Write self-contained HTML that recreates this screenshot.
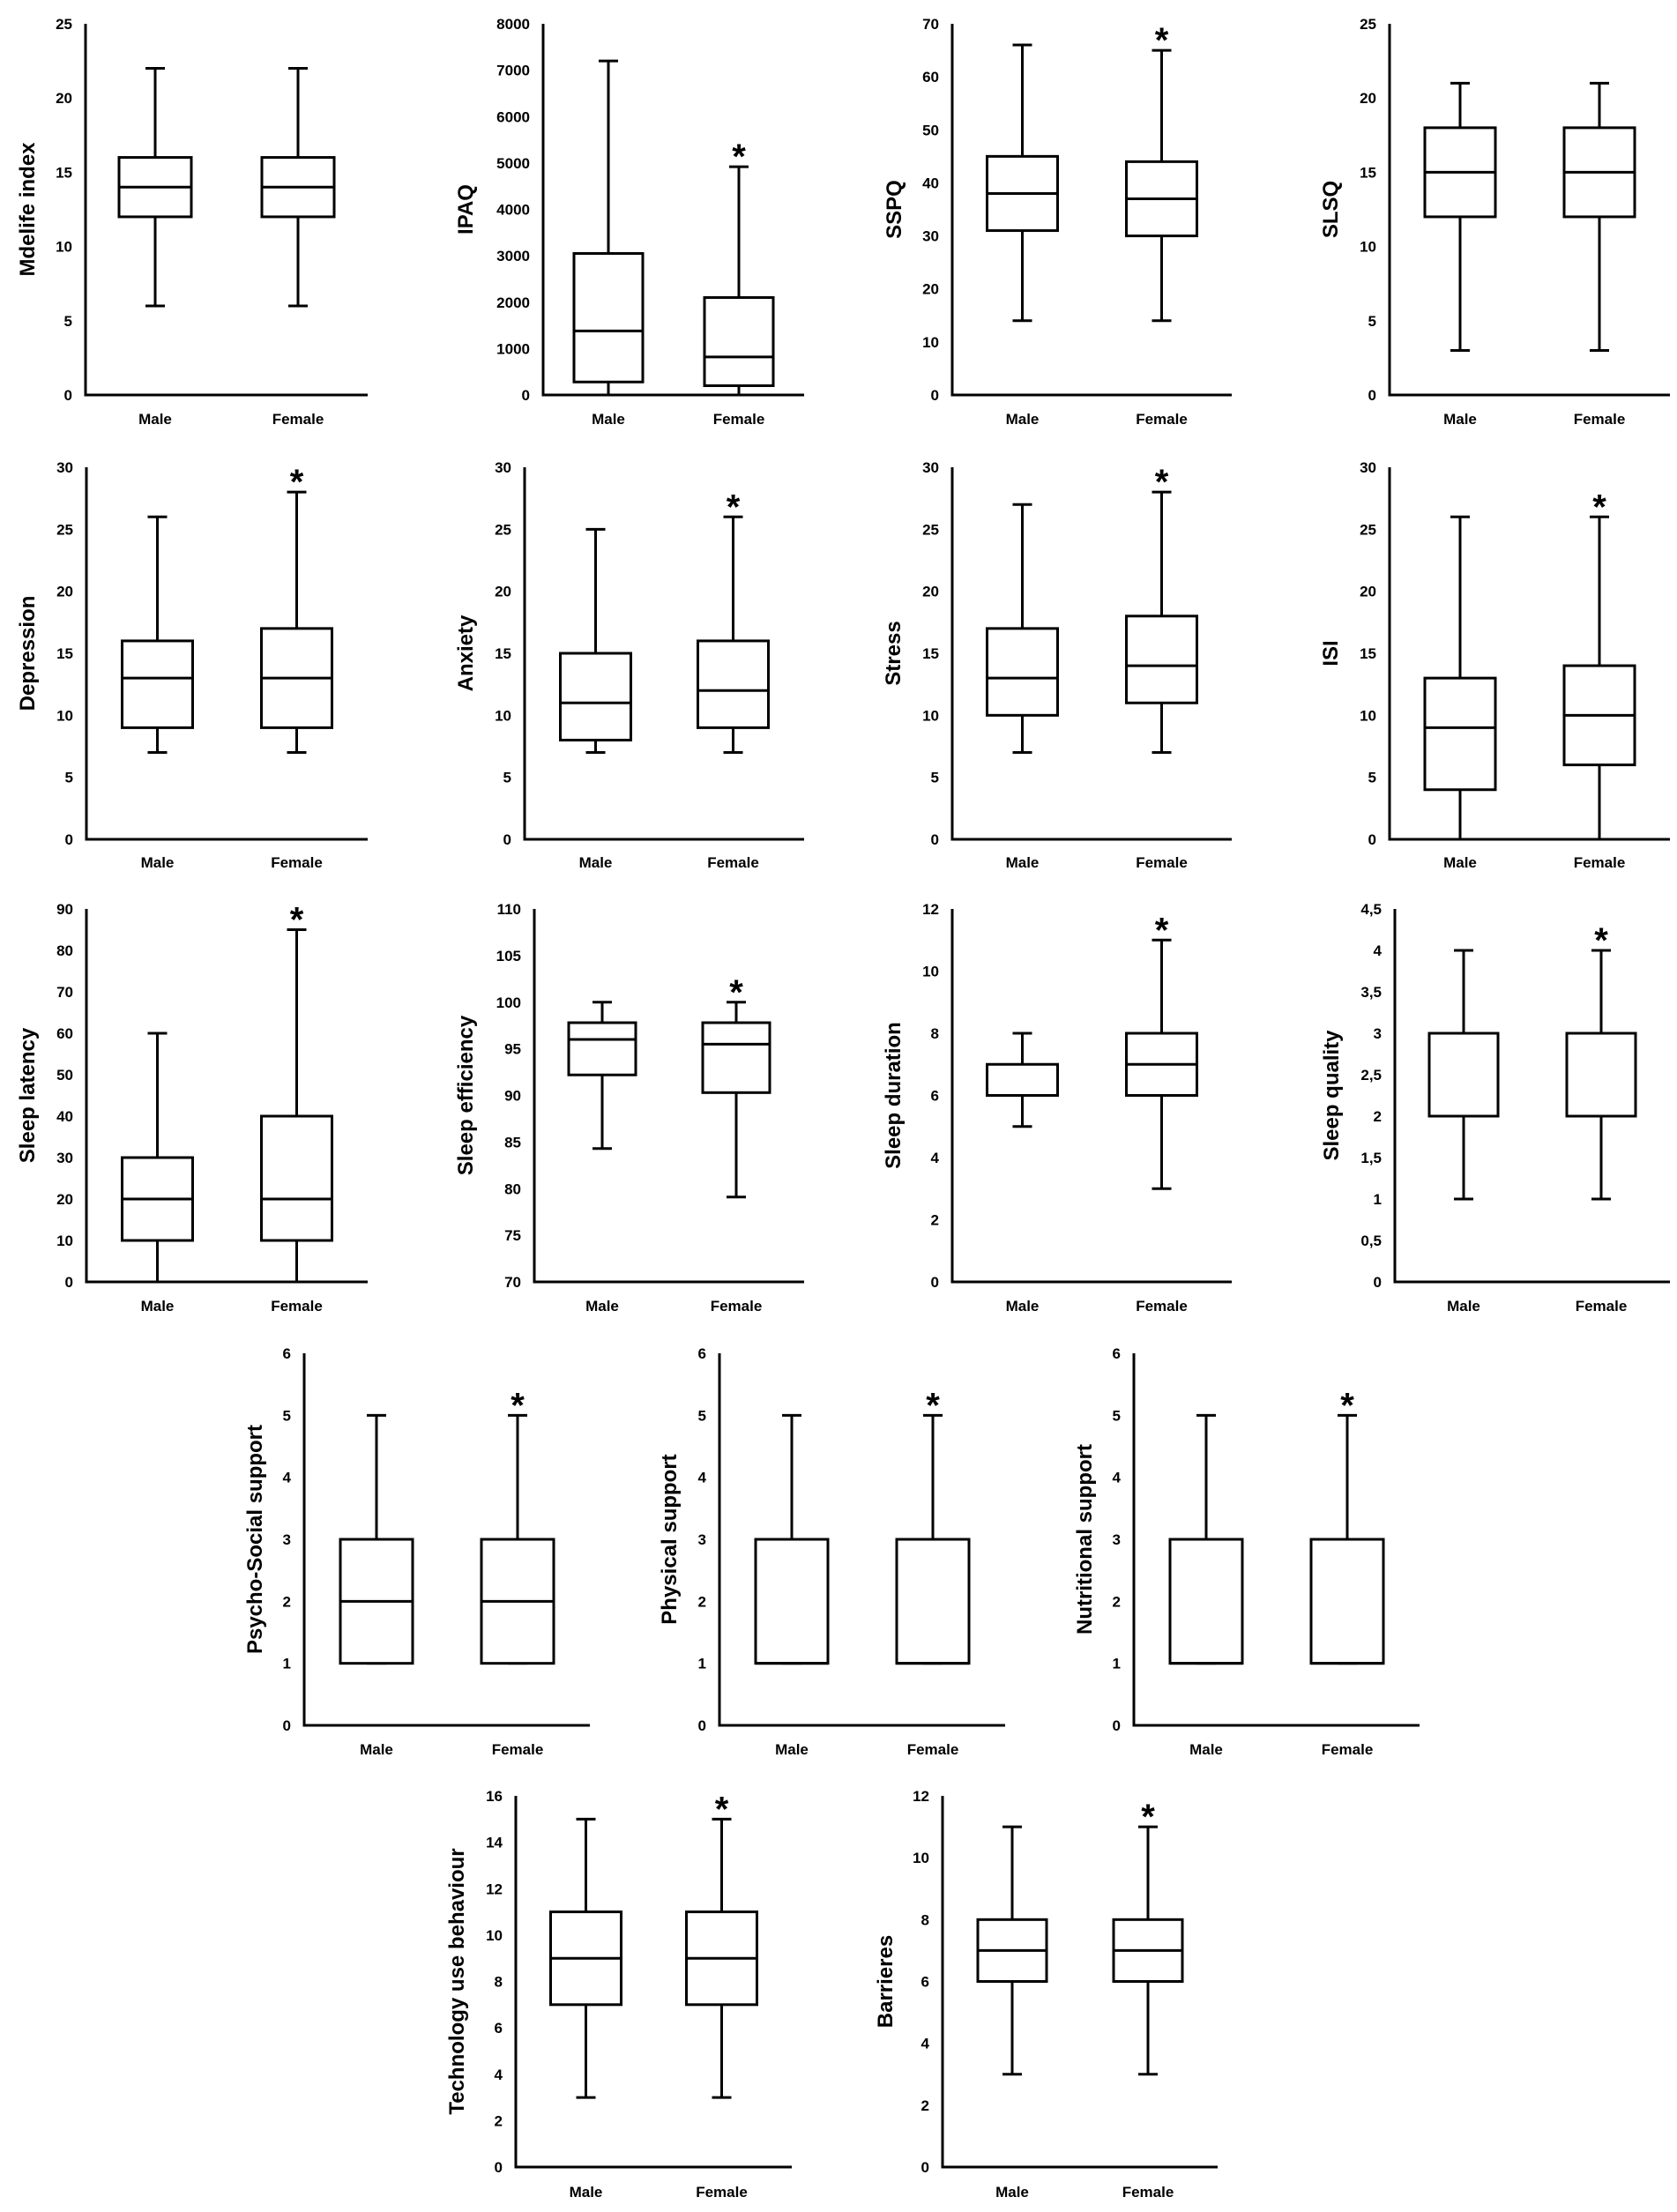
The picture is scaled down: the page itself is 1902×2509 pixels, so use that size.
<!DOCTYPE html>
<html><head><meta charset="utf-8"><style>
html,body{margin:0;padding:0;background:#fff;}
svg{display:block;}
text{font-family:"Liberation Sans",Arial,sans-serif;font-weight:bold;fill:#000;}
</style></head><body>
<svg id="fig" width="1902" height="2509" viewBox="0 0 1902 2509" xmlns="http://www.w3.org/2000/svg"></svg>
<script>
// ---- data (min, q1, median, q3, max) ----
const categories = ['Male', 'Female'];
const mdelifeMale = [6, 12, 14, 16, 22];
const mdelifeFemale = [6, 12, 14, 16, 22];
const ipaqMale = [0, 280, 1380, 3050, 7200];
const ipaqFemale = [0, 200, 820, 2100, 4920];
const sspqMale = [14, 31, 38, 45, 66];
const sspqFemale = [14, 30, 37, 44, 65];
const slsqMale = [3, 12, 15, 18, 21];
const slsqFemale = [3, 12, 15, 18, 21];
const depressionMale = [7, 9, 13, 16, 26];
const depressionFemale = [7, 9, 13, 17, 28];
const anxietyMale = [7, 8, 11, 15, 25];
const anxietyFemale = [7, 9, 12, 16, 26];
const stressMale = [7, 10, 13, 17, 27];
const stressFemale = [7, 11, 14, 18, 28];
const isiMale = [0, 4, 9, 13, 26];
const isiFemale = [0, 6, 10, 14, 26];
const latencyMale = [0, 10, 20, 30, 60];
const latencyFemale = [0, 10, 20, 40, 85];
const efficiencyMale = [84.3, 92.2, 96, 97.8, 100];
const efficiencyFemale = [79.1, 90.3, 95.5, 97.8, 100];
const durationMale = [5, 6, 6, 7, 8];
const durationFemale = [3, 6, 7, 8, 11];
const qualityMale = [1, 2, 2, 3, 4];
const qualityFemale = [1, 2, 2, 3, 4];
const psychoMale = [1, 1, 2, 3, 5];
const psychoFemale = [1, 1, 2, 3, 5];
const physicalMale = [1, 1, 1, 3, 5];
const physicalFemale = [1, 1, 1, 3, 5];
const nutritionalMale = [1, 1, 1, 3, 5];
const nutritionalFemale = [1, 1, 1, 3, 5];
const techMale = [3, 7, 9, 11, 15];
const techFemale = [3, 7, 9, 11, 15];
const barriersMale = [3, 6, 7, 8, 11];
const barriersFemale = [3, 6, 7, 8, 11];
// tick labels
const ticks25 = ['0','5','10','15','20','25'];
const ticks8000 = ['0','1000','2000','3000','4000','5000','6000','7000','8000'];
const ticks70 = ['0','10','20','30','40','50','60','70'];
const ticks30 = ['0','5','10','15','20','25','30'];
const ticks90 = ['0','10','20','30','40','50','60','70','80','90'];
const ticks110 = ['70','75','80','85','90','95','100','105','110'];
const ticks12 = ['0','2','4','6','8','10','12'];
const ticks45 = ['0','0,5','1','1,5','2','2,5','3','3,5','4','4,5'];
const ticks6 = ['0','1','2','3','4','5','6'];
const ticks16 = ['0','2','4','6','8','10','12','14','16'];
// significance flags per panel (female asterisk)
const femaleSig = [false,true,true,false, true,true,true,true, true,true,true,true, true,true,true, true,true];

const panels = [
 {name:'mdelife', title:'Mdelife index', m:mdelifeMale, f:mdelifeFemale, ticks:ticks25, ax:97, end:417, top:27, zero:448, lab:475, tx:31, hw:41, gm:81},
 {name:'ipaq', title:'IPAQ', m:ipaqMale, f:ipaqFemale, ticks:ticks8000, ax:616, end:912, top:27, zero:448, lab:475, tx:528, hw:39, gm:74},
 {name:'sspq', title:'SSPQ', m:sspqMale, f:sspqFemale, ticks:ticks70, ax:1080, end:1397, top:27, zero:448, lab:475, tx:1014, hw:40, gm:79},
 {name:'slsq', title:'SLSQ', m:slsqMale, f:slsqFemale, ticks:ticks25, ax:1576, end:1894, top:27, zero:448, lab:475, tx:1509, hw:40, gm:79},
 {name:'depression', title:'Depression', m:depressionMale, f:depressionFemale, ticks:ticks30, ax:98, end:417, top:530, zero:952, lab:978, tx:31, hw:40, gm:79},
 {name:'anxiety', title:'Anxiety', m:anxietyMale, f:anxietyFemale, ticks:ticks30, ax:595, end:912, top:530, zero:952, lab:978, tx:528, hw:40, gm:78},
 {name:'stress', title:'Stress', m:stressMale, f:stressFemale, ticks:ticks30, ax:1080, end:1397, top:530, zero:952, lab:978, tx:1013, hw:40, gm:79},
 {name:'isi', title:'ISI', m:isiMale, f:isiFemale, ticks:ticks30, ax:1576, end:1894, top:530, zero:952, lab:978, tx:1509, hw:40, gm:79},
 {name:'sleep-latency', title:'Sleep latency', m:latencyMale, f:latencyFemale, ticks:ticks90, ax:98, end:417, top:1031, zero:1454, lab:1481, tx:31, hw:40, gm:79},
 {name:'sleep-efficiency', title:'Sleep efficiency', m:efficiencyMale, f:efficiencyFemale, ticks:ticks110, ax:606, end:912, top:1031, zero:1454, lab:1481, tx:528, hw:38, gm:76},
 {name:'sleep-duration', title:'Sleep duration', m:durationMale, f:durationFemale, ticks:ticks12, ax:1080, end:1397, top:1031, zero:1454, lab:1481, tx:1013, hw:40, gm:79},
 {name:'sleep-quality', title:'Sleep quality', m:qualityMale, f:qualityFemale, ticks:ticks45, ax:1582, end:1894, top:1031, zero:1454, lab:1481, tx:1510, hw:39, gm:78},
 {name:'psycho-social-support', title:'Psycho-Social support', m:psychoMale, f:psychoFemale, ticks:ticks6, ax:345, end:669, top:1535, zero:1957, lab:1984, tx:289, hw:41, gm:80},
 {name:'physical-support', title:'Physical support', m:physicalMale, f:physicalFemale, ticks:ticks6, ax:816, end:1140, top:1535, zero:1957, lab:1984, tx:759, hw:41, gm:80},
 {name:'nutritional-support', title:'Nutritional support', m:nutritionalMale, f:nutritionalFemale, ticks:ticks6, ax:1286, end:1610, top:1535, zero:1957, lab:1984, tx:1230, hw:41, gm:80},
 {name:'technology-use', title:'Technology use behaviour', m:techMale, f:techFemale, ticks:ticks16, ax:585, end:898, top:2037, zero:2458, lab:2486, tx:518, hw:40, gm:77},
 {name:'barriers', title:'Barrieres', m:barriersMale, f:barriersFemale, ticks:ticks16.slice(0,7), ax:1069, end:1381, top:2037, zero:2458, lab:2486, tx:1004, hw:39, gm:77}
];

const NS = 'http://www.w3.org/2000/svg';
const svg = document.getElementById('fig');
function mk(tag, attrs, parent){
  const e = document.createElementNS(NS, tag);
  for (const k in attrs) e.setAttribute(k, attrs[k]);
  parent.appendChild(e);
  return e;
}
panels.forEach((p, pi) => {
  const g = mk('g', {}, svg);
  
  
  const t0 = parseFloat(p.ticks[0].replace(',', '.'));
  const t1 = parseFloat(p.ticks[p.ticks.length-1].replace(',', '.'));
  const y = v => p.zero - (v - t0) / (t1 - t0) * (p.zero - p.top);
  // ticks
  p.ticks.forEach(t => {
    const v = parseFloat(t.replace(',', '.'));
    const tl = mk('text', {x: p.ax - 15, y: y(v) + 6, 'text-anchor': 'end', 'font-size': 17}, g);
    tl.textContent = t;
    
    
  });
  // axes
  const ya = mk('line', {x1: p.ax, y1: p.top, x2: p.ax, y2: p.zero, stroke: '#000', 'stroke-width': 3}, g);
  
  
  const xa = mk('line', {x1: p.ax - 1.5, y1: p.zero, x2: p.end, y2: p.zero, stroke: '#000', 'stroke-width': 3}, g);
  
  
  // title
  const cy = (p.top + p.zero) / 2;
  const tt = mk('text', {x: p.tx, y: cy, 'text-anchor': 'middle', 'font-size': 24, transform: 'rotate(-90 ' + p.tx + ' ' + cy + ')', dy: 8}, g);
  tt.textContent = p.title;
  
  
  // boxes
  const mid = (p.ax + p.end) / 2;
  const centers = [mid - p.gm, mid + p.gm];
  [p.m, p.f].forEach((s, i) => {
    const cx = centers[i];
    const bg = mk('g', {}, g);
    
    
    mk('line', {x1: cx, y1: y(s[0]), x2: cx, y2: y(s[4]), stroke: '#000', 'stroke-width': 3}, bg);
    mk('line', {x1: cx - 11, y1: y(s[4]), x2: cx + 11, y2: y(s[4]), stroke: '#000', 'stroke-width': 3}, bg);
    if (s[0] > t0) mk('line', {x1: cx - 11, y1: y(s[0]), x2: cx + 11, y2: y(s[0]), stroke: '#000', 'stroke-width': 3}, bg);
    mk('rect', {x: cx - p.hw, y: y(s[3]), width: 2 * p.hw, height: y(s[1]) - y(s[3]), fill: '#fff', stroke: '#000', 'stroke-width': 3}, bg);
    mk('line', {x1: cx - p.hw, y1: y(s[2]), x2: cx + p.hw, y2: y(s[2]), stroke: '#000', 'stroke-width': 3}, bg);
    const lb = mk('text', {x: cx, y: p.lab + 6, 'text-anchor': 'middle', 'font-size': 17}, g);
    lb.textContent = categories[i];
    
    
    if (i === 1 && femaleSig[pi]) {
      const a = mk('text', {x: cx, y: y(s[4]) + 2, 'text-anchor': 'middle', 'font-size': 40}, g);
      a.textContent = '*';
      
      
    }
  });
});
</script>
</body></html>
